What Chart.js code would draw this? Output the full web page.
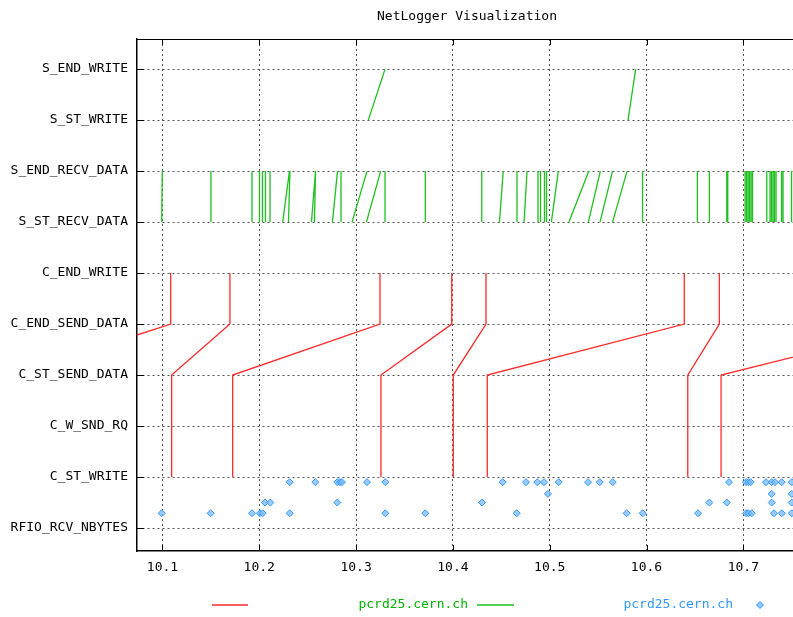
<!DOCTYPE html>
<html>
<head>
<meta charset="utf-8">
<script src="https://cdn.jsdelivr.net/npm/chart.js@4/dist/chart.umd.min.js"></script>
<style>
  html, body { margin: 0; padding: 0; background: #fff; overflow: hidden; }
  canvas { display: block; }
</style>
</head>
<body>
<canvas id="c" width="793" height="617"></canvas>
<script>
// ---------- data ----------
const chartTitle = 'NetLogger Visualization';
const yCategories = ['RFIO_RCV_NBYTES','C_ST_WRITE','C_W_SND_RQ','C_ST_SEND_DATA','C_END_SEND_DATA','C_END_WRITE','S_ST_RECV_DATA','S_END_RECV_DATA','S_ST_WRITE','S_END_WRITE'];
const xTicks = [10.1, 10.2, 10.3, 10.4, 10.5, 10.6, 10.7];
const hostLabel = 'pcrd25.cern.ch';

// client transactions (times of each event)
const cStWrite     = [9.947, 10.1095, 10.1725, 10.3257, 10.4004, 10.4355, 10.6426, 10.6770];
const cWSndRq      = [9.947, 10.1095, 10.1725, 10.3257, 10.4004, 10.4355, 10.6426, 10.6770];
const cStSendData  = [9.947, 10.1095, 10.1725, 10.3257, 10.4004, 10.4355, 10.6426, 10.6770];
const cEndSendData = [10.1085, 10.1697, 10.3247, 10.3988, 10.4342, 10.6390, 10.6752, 10.888];
const cEndWrite    = [10.1085, 10.1697, 10.3247, 10.3988, 10.4342, 10.6390, 10.6752, 10.888];

// server receive / write events
const sStRecvData  = [10.0992,10.1501,10.1925,10.2002,10.2033,10.2064,10.2111,10.2242,10.2302,10.2539,10.2570,10.2756,10.2844,10.2958,10.3107,10.3299,10.3715,10.4298,10.4481,10.4662,10.4735,10.4879,10.4905,10.4946,10.4967,10.5017,10.5199,10.5399,10.5520,10.5649,10.5959,10.6525,10.6649,10.6829,10.6839,10.7018,10.7033,10.7049,10.7064,10.7080,10.7095,10.7242,10.7276,10.7291,10.7307,10.7322,10.7338,10.7395,10.7410,10.7498];
const sEndRecvData = [10.0998,10.1501,10.1925,10.2002,10.2033,10.2064,10.2111,10.2312,10.2317,10.2581,10.2581,10.2808,10.2844,10.3113,10.3254,10.3299,10.3715,10.4298,10.4520,10.4662,10.4766,10.4879,10.4905,10.4946,10.4967,10.5089,10.5404,10.5523,10.5649,10.5799,10.5959,10.6525,10.6649,10.6829,10.6839,10.7018,10.7033,10.7049,10.7064,10.7080,10.7095,10.7242,10.7276,10.7291,10.7307,10.7322,10.7338,10.7395,10.7410,10.7498];
const sStWrite     = [10.3126, 10.5809];
const sEndWrite    = [10.3299, 10.5888];

// RFIO_RCV_NBYTES points
const rfioTimes  = [10.0992,10.1498,10.1925,10.2007,10.2035,10.2059,10.2114,10.2314,10.2314,10.2579,10.2806,10.2834,10.2854,10.2806,10.3113,10.3302,10.3302,10.3715,10.4301,10.4514,10.4659,10.4755,10.4872,10.4941,10.4982,10.5093,10.5396,10.5517,10.5651,10.5795,10.5961,10.6532,10.6649,10.6829,10.6852,10.7028,10.7052,10.7076,10.7028,10.7052,10.7087,10.7234,10.7293,10.7327,10.7397,10.7293,10.7293,10.7317,10.7397,10.7500,10.7500,10.7500,10.7500];
const rfioLevels = [0.29,0.29,0.29,0.29,0.29,0.5,0.5,0.9,0.29,0.9,0.9,0.9,0.9,0.5,0.9,0.9,0.29,0.29,0.5,0.9,0.29,0.9,0.9,0.9,0.67,0.9,0.9,0.9,0.9,0.29,0.29,0.29,0.5,0.5,0.9,0.9,0.9,0.9,0.29,0.29,0.29,0.9,0.9,0.9,0.9,0.67,0.5,0.29,0.29,0.9,0.67,0.5,0.29];

// ---------- build datasets ----------
const RED = '#ff2a2a', GREEN = '#1fc01f', BLUE = '#3399ff';
const clientData = [];
for (let i = 0; i < cStWrite.length; i++) {
  clientData.push({x: cStWrite[i], y: 1}, {x: cWSndRq[i], y: 2}, {x: cStSendData[i], y: 3},
                  {x: cEndSendData[i], y: 4}, {x: cEndWrite[i], y: 5}, {x: cEndWrite[i], y: null});
}
const serverData = [];
for (let i = 0; i < sStRecvData.length; i++) {
  serverData.push({x: sStRecvData[i], y: 6}, {x: sEndRecvData[i], y: 7}, {x: sEndRecvData[i], y: null});
}
for (let i = 0; i < sStWrite.length; i++) {
  serverData.push({x: sStWrite[i], y: 8}, {x: sEndWrite[i], y: 9}, {x: sEndWrite[i], y: null});
}
const rfioData = rfioTimes.map((t, i) => ({x: t, y: rfioLevels[i]}));

const FONT = 'DejaVu Sans Mono';
Chart.defaults.font.family = FONT;
Chart.defaults.font.size = 13;
Chart.defaults.color = '#000';

const framePlugin = {
  id: 'frame',
  afterDraw(chart) {
    const {ctx, chartArea: a, scales} = chart;
    ctx.save();
    // top frame line
    ctx.strokeStyle = '#000'; ctx.lineWidth = 1;
    ctx.beginPath(); ctx.moveTo(a.left, a.top + 0.5); ctx.lineTo(a.right, a.top + 0.5); ctx.stroke();
    // inward tick marks
    ctx.beginPath();
    scales.x.ticks.forEach(t => {
      const px = Math.round(scales.x.getPixelForValue(t.value)) + 0.5;
      ctx.moveTo(px, a.bottom); ctx.lineTo(px, a.bottom - 6);
      ctx.moveTo(px, a.top); ctx.lineTo(px, a.top + 6);
    });
    scales.y.ticks.forEach(t => {
      const py = Math.round(scales.y.getPixelForValue(t.value)) + 0.5;
      ctx.moveTo(a.left, py); ctx.lineTo(a.left + 7, py);
    });
    ctx.stroke();
    // title
    ctx.fillStyle = '#000';
    ctx.font = '13px ' + FONT;
    ctx.textAlign = 'center'; ctx.textBaseline = 'middle';
    ctx.fillText(chartTitle, (a.left + a.right) / 2 + 2, 17);
    // legend
    const ly = 605;
    ctx.lineWidth = 1.3;
    ctx.strokeStyle = RED;
    ctx.beginPath(); ctx.moveTo(212, ly); ctx.lineTo(248, ly); ctx.stroke();
    ctx.textAlign = 'right';
    ctx.fillStyle = '#00b400';
    ctx.fillText(hostLabel, 468, ly);
    ctx.strokeStyle = GREEN;
    ctx.beginPath(); ctx.moveTo(477, ly); ctx.lineTo(514, ly); ctx.stroke();
    ctx.fillStyle = BLUE;
    ctx.fillText(hostLabel, 733, ly);
    ctx.fillStyle = 'rgba(120,185,255,0.8)'; ctx.strokeStyle = BLUE; ctx.lineWidth = 1;
    ctx.beginPath();
    ctx.moveTo(760, ly - 3.5); ctx.lineTo(763.5, ly); ctx.lineTo(760, ly + 3.5); ctx.lineTo(756.5, ly); ctx.closePath();
    ctx.fill(); ctx.stroke();
    ctx.restore();
  }
};

new Chart(document.getElementById('c'), {
  type: 'line',
  data: {
    datasets: [
      { label: '', data: clientData, borderColor: RED, borderWidth: 1.3, pointRadius: 0, spanGaps: false, order: 2 },
      { label: hostLabel, data: serverData, borderColor: GREEN, borderWidth: 1.3, pointRadius: 0, spanGaps: false, order: 3 },
      { label: hostLabel, type: 'scatter', data: rfioData, showLine: false, pointStyle: 'rectRot', pointRadius: 3.5,
        backgroundColor: 'rgba(120,185,255,0.75)', borderColor: BLUE, borderWidth: 1, order: 1 }
    ]
  },
  options: {
    responsive: false,
    devicePixelRatio: 1,
    animation: false,
    events: [],
    layout: { autoPadding: false, padding: { top: 39, right: 0, bottom: 36, left: 0 } },
    plugins: { legend: { display: false }, title: { display: false }, tooltip: { enabled: false } },
    scales: {
      x: {
        type: 'linear', min: 10.0737, max: 10.7513,
        afterBuildTicks: s => { s.ticks = xTicks.map(v => ({value: v})); },
        afterFit: s => { s.height = 30; s.paddingLeft = 0; s.paddingRight = 0; },
        ticks: { autoSkip: false, maxRotation: 0, padding: 9, callback: v => Number(v).toFixed(1), color: '#000' },
        grid: { color: '#555', lineWidth: 1, drawTicks: false },
        border: { display: true, color: '#000', width: 1.5, dash: [2, 3] }
      },
      y: {
        type: 'linear', min: -0.45, max: 9.59,
        afterBuildTicks: s => { s.ticks = yCategories.map((_, i) => ({value: i})); },
        afterFit: s => { s.width = 137; s.paddingTop = 0; s.paddingBottom = 0; },
        ticks: { autoSkip: false, padding: 9, callback: v => yCategories[v], color: '#000' },
        grid: { color: '#555', lineWidth: 1, drawTicks: false },
        border: { display: true, color: '#000', width: 1.5, dash: [2, 3] }
      }
    }
  },
  plugins: [framePlugin]
});
</script>
</body>
</html>
